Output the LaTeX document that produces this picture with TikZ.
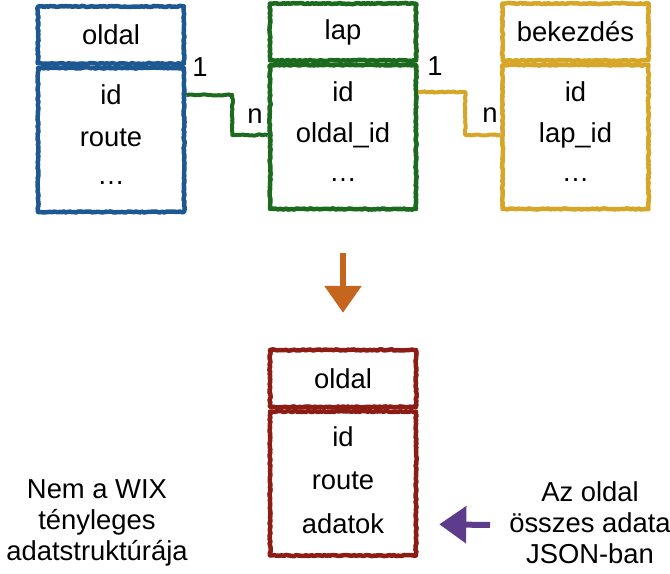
\documentclass[tikz,border=0pt]{standalone}
\usepackage{fontspec}
\setmainfont{Liberation Sans}
\usetikzlibrary{positioning,arrows.meta,decorations.pathmorphing}

\definecolor{tblue}{RGB}{30,88,146}
\definecolor{tgreen}{RGB}{28,106,30}
\definecolor{tyellow}{RGB}{214,166,40}
\definecolor{tred}{RGB}{140,28,20}
\definecolor{torange}{RGB}{198,102,30}
\definecolor{tpurple}{RGB}{94,60,140}

\begin{document}
\begin{tikzpicture}[x=1bp, y=-1bp, font=\fontsize{27.5}{31}\selectfont,
    sketch/.style={decorate, decoration={random steps, segment length=2bp, amplitude=0.6bp}, line width=4.5bp, line join=round},
    tbl head/.style={draw, sketch, rectangle, minimum width=146bp, minimum height=57bp, inner sep=0pt},
    tbl body/.style={draw, sketch, rectangle, minimum width=146bp, minimum height=144bp, inner sep=0pt},
    field/.style={inner sep=0pt},
    link/.style={sketch, line width=4bp},
    flow/.style={line width=6bp, -{Triangle[width=36bp, length=27bp]}},
    note/.style={align=center, inner sep=0pt}]
    \useasboundingbox (0,0) rectangle (670,574);

    % oldal
    \node[tbl head, draw=tblue] (oldal) at (111,35) {};
    \node[tbl body, draw=tblue, below=0pt of oldal] (oldalbody) {};
    \node[field] at (oldal) {oldal};
    \node[field] (oldalid) at (111,95) {id};
    \node[field] (oldalroute) at (111,138) {route};
    \node[field] (oldalmore) at (111,183) {\dots};

    % lap
    \node[tbl head, draw=tgreen] (lap) at (343,32) {};
    \node[tbl body, draw=tgreen, below=0pt of lap] (lapbody) {};
    \node[field] at (lap) {lap};
    \node[field] (lapid) at (343,92) {id};
    \node[field] (lapfk) at (343,135) {oldal\_id};
    \node[field] (lapmore) at (343,180) {\dots};

    % bekezdes
    \node[tbl head, draw=tyellow] (bek) at (575.5,32) {};
    \node[tbl body, draw=tyellow, below=0pt of bek] (bekbody) {};
    \node[field] at (bek) {bekezdés};
    \node[field] (bekid) at (575.5,92) {id};
    \node[field] (bekfk) at (575.5,135) {lap\_id};
    \node[field] (bekmore) at (575.5,180) {\dots};

    % uj oldal
    \node[tbl head, draw=tred] (uj) at (343,378.5) {};
    \node[tbl body, draw=tred, below=0pt of uj] (ujbody) {};
    \node[field] at (uj) {oldal};
    \node[field] (ujid) at (343,437) {id};
    \node[field] (ujroute) at (343,481) {route};
    \node[field] (ujdata) at (343,524) {adatok};

    % kapcsolatok
    \draw[link, tgreen] (oldalid -| oldalbody.east) -- ++(46,0) |- (lapfk -| lapbody.west);
    \draw[link, tyellow] (lapid -| lapbody.east) -- ++(47,0) |- (bekfk -| bekbody.west);
    \node[field] (one1) at (200,67) {1};
    \node[field] (n1) at (255,116) {n};
    \node[field] (one2) at (435,66) {1};
    \node[field] (n2) at (490,115) {n};

    \draw[flow, torange, shorten <=42bp, shorten >=35bp] (lapbody) -- (uj);

    \node[note] (wix) at (97,523) {Nem a WIX\\tényleges\\adatstruktúrája};
    \node[note] (json) at (590,523) {Az oldal\\összes adata\\JSON-ban};
    \coordinate (jsonarrow) at (490,525);
    \draw[flow, tpurple, shorten >=21bp] (jsonarrow) -- (ujdata -| ujbody.east);

\end{tikzpicture}
\end{document}
